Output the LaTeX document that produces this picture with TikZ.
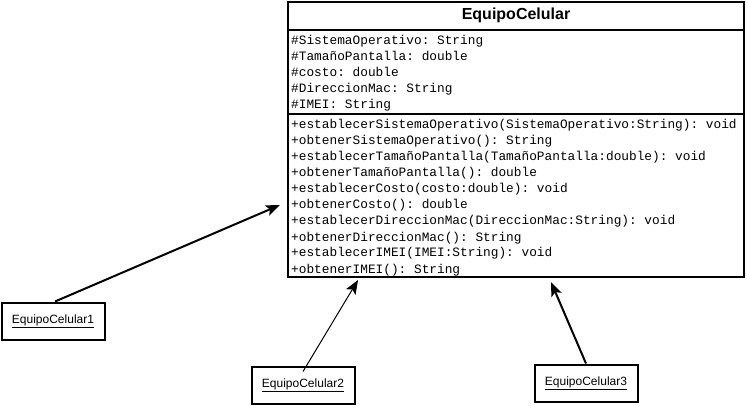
\documentclass[tikz,border=0pt]{standalone}
\usepackage{fontspec}
\setmonofont{Liberation Mono}
\setsansfont{Liberation Sans}
\usetikzlibrary{arrows.meta}

\begin{document}
\begin{tikzpicture}[x=1pt, y=-1pt, >={Stealth[length=14pt, width=11pt, inset=3pt]},
	caja/.style={
		% The shape:
		rectangle, anchor=north west,
		% The border
		line width=2pt, draw=black,
		% The filling
		fill=white, inner sep=0pt},
	linea/.style={anchor=base west, inner sep=0pt, font=\fontsize{12.8}{16}\ttfamily},
	objeto/.style={caja, anchor=center, minimum width=103pt, minimum height=37pt,
		font=\fontsize{12}{14}\sffamily}]
    \useasboundingbox (0,0) rectangle (747,406);
    % la clase
    \node [caja, minimum width=456pt, minimum height=28pt] (titulo) at (287,1) {};
    \node [font=\fontsize{16}{19}\sffamily\bfseries] (nombre) at (516,15) {EquipoCelular};
    \node [caja, minimum width=456pt, minimum height=84pt] (atributos) at (287,29) {};
    \node [caja, minimum width=456pt, minimum height=163pt] (metodos) at (287,113) {};
    \node [linea] (a1) at (291,45) {\#SistemaOperativo: String};
    \node [linea] (a2) at (291,61) {\#TamañoPantalla: double};
    \node [linea] (a3) at (291,77) {\#costo: double};
    \node [linea] (a4) at (291,93) {\#DireccionMac: String};
    \node [linea] (a5) at (291,109) {\#IMEI: String};
    \node [linea] (m1) at (291,129) {+establecerSistemaOperativo(SistemaOperativo:String): void};
    \node [linea] (m2) at (291,145) {+obtenerSistemaOperativo(): String};
    \node [linea] (m3) at (291,161) {+establecerTamañoPantalla(TamañoPantalla:double): void};
    \node [linea] (m4) at (291,177) {+obtenerTamañoPantalla(): double};
    \node [linea] (m5) at (291,193) {+establecerCosto(costo:double): void};
    \node [linea] (m6) at (291,209) {+obtenerCosto(): double};
    \node [linea] (m7) at (291,225) {+establecerDireccionMac(DireccionMac:String): void};
    \node [linea] (m8) at (291,241) {+obtenerDireccionMac(): String};
    \node [linea] (m9) at (291,257) {+establecerIMEI(IMEI:String): void};
    \node [linea] (m10) at (291,273) {+obtenerIMEI(): String};
    % los objetos
    \node [objeto] (obj1) at (53,321) {\underline{EquipoCelular1}};
    \node [objeto] (obj2) at (303,385) {\underline{EquipoCelular2}};
    \node [objeto] (obj3) at (586,383) {\underline{EquipoCelular3}};
    \coordinate (p1) at (280,205);
    \coordinate (p2) at (358,280);
    \coordinate (p3) at (551,282);
    \draw [->, line width=2pt] (obj1.north) ++(2,0) -- (p1);
    \draw [->, line width=1pt] ([yshift=-6pt]obj2.north) -- (p2);
    \draw [->, line width=2pt] (obj3.north) -- (p3);
\end{tikzpicture}
\end{document}
